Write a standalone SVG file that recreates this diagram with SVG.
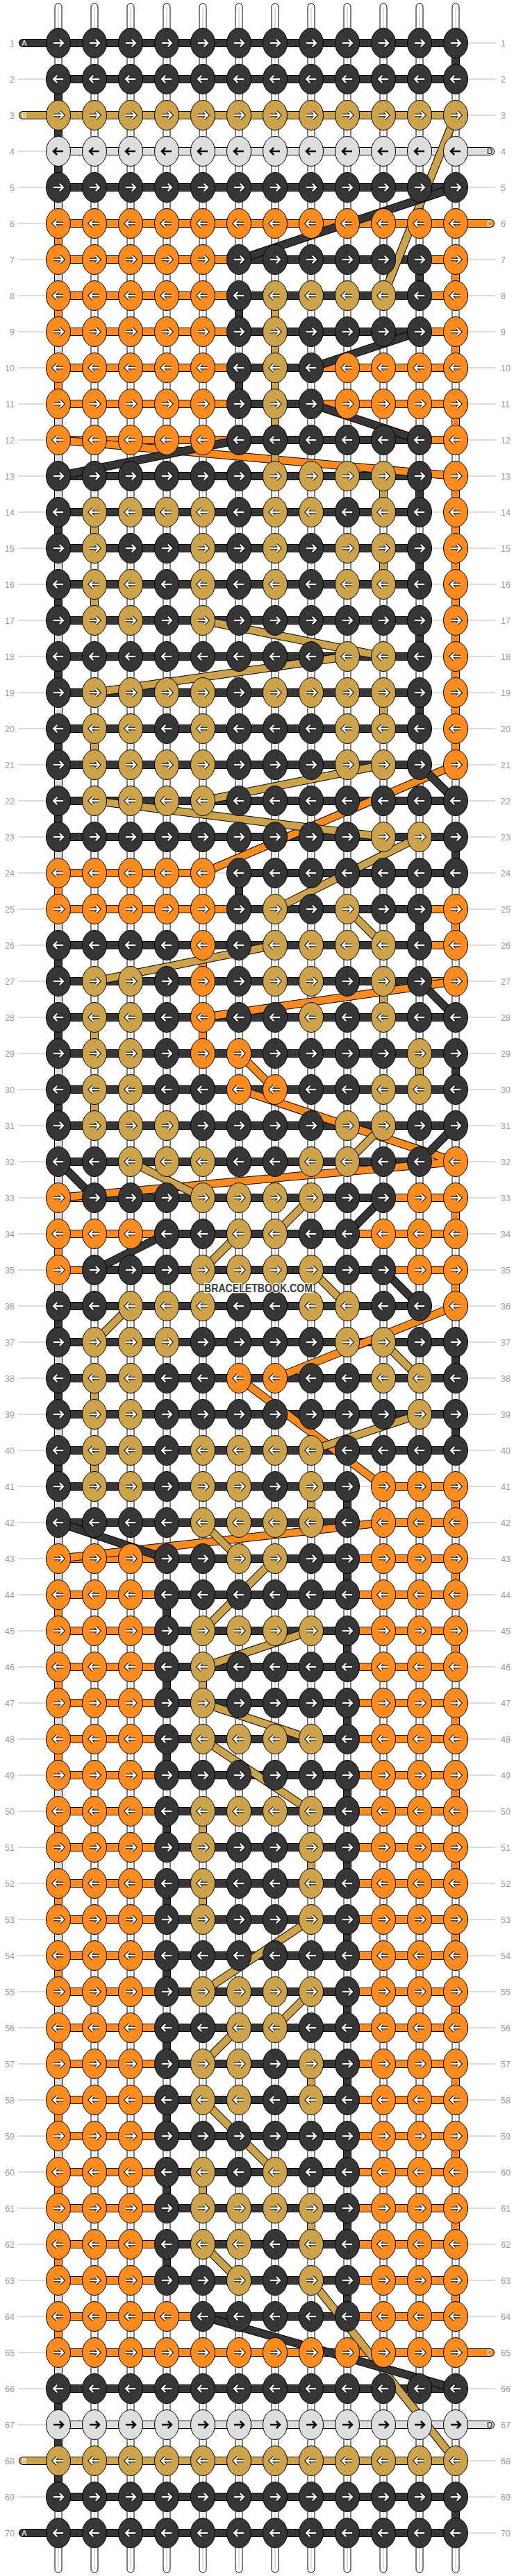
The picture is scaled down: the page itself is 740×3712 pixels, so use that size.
<svg xmlns="http://www.w3.org/2000/svg" width="740" height="3712" viewBox="0 0 740 3712">
<style>
.ln{fill:none;stroke:#bbb;stroke-width:1}
.lb{font-family:"Liberation Sans",Arial,sans-serif;font-size:12.5px;fill:#999}
.lbr{font-family:"Liberation Sans",Arial,sans-serif;font-size:12.5px;fill:#999}
.st{fill:#fff;stroke:#000;stroke-width:1}
.sc{fill:none;stroke:#c8c8c8;stroke-width:1.2}
.t{fill:none;stroke-linecap:round;stroke-linejoin:round}
.to{stroke:#000;stroke-width:12}
.tD{stroke:#363636;stroke-width:10}
.tG{stroke:#cca34a;stroke-width:10}
.tO{stroke:#ff8a1d;stroke-width:10}
.tL{stroke:#dedede;stroke-width:10}
.tl{font-family:"Liberation Sans",Arial,sans-serif;font-size:11px;text-anchor:middle}
</style>
<defs>
<path id="a" d="M-7,0H6.2M1.8,-5.2L7,0L1.8,5.2" fill="none"/>
<g id="arw"><use href="#a" stroke="#000" stroke-width="4.4"/><use href="#a" stroke="#fff" stroke-width="2.4"/></g>
<g id="alw"><g transform="scale(-1,1)"><use href="#arw"/></g></g>
<g id="arb"><use href="#a" stroke="#000" stroke-width="2.6"/></g>
<g id="alb"><g transform="scale(-1,1)"><use href="#arb"/></g></g>
<ellipse id="e" rx="17.5" ry="21.5" stroke="#000" stroke-width="1"/>
<g id="dr"><use href="#e" fill="#363636"/><use href="#arw"/></g>
<g id="dl"><use href="#e" fill="#363636"/><use href="#alw"/></g>
<g id="gr"><use href="#e" fill="#cca34a"/><use href="#arw"/></g>
<g id="gl"><use href="#e" fill="#cca34a"/><use href="#alw"/></g>
<g id="or"><use href="#e" fill="#ff8a1d"/><use href="#arw"/></g>
<g id="ol"><use href="#e" fill="#ff8a1d"/><use href="#alw"/></g>
<g id="wr"><use href="#e" fill="#dedede"/><use href="#arb"/></g>
<g id="wl"><use href="#e" fill="#dedede"/><use href="#alb"/></g>
<path id="pL" d="M84 218H706M84 3494H706"/>
<path id="pO" d="M84 322H706M84 374H656M84 426H656M84 478H656M84 530H656M84 582H656M84 634H656M84 1258H292M84 1310H656M292 1362H656M292 1414H656M292 1518H344M344 1570H396M84 1726H656M84 1778H656M84 1830H656M344 1986H396M552 2142H656M552 2194H656M84 2246H656M84 2298H656M84 2350H656M84 2402H656M84 2454H656M84 2506H656M84 2558H656M84 2610H656M84 2662H656M84 2714H656M84 2766H656M84 2818H656M84 2870H656M84 2922H656M84 2974H656M84 3026H656M84 3078H656M84 3130H656M84 3182H656M84 3234H656M84 3286H656M84 3338H656M84 3390H706"/>
<path id="pG" d="M33 166H656M396 426H552M396 686H552M136 738H552M136 790H552M136 842H552M136 894H292M500 946H552M136 998H552M136 1050H552M136 1102H552M136 1154H292M552 1206H604M396 1310H500M396 1362H552M136 1414H552M136 1466H552M136 1518H604M136 1570H604M136 1622H552M188 1674H500M292 1726H448M344 1778H396M292 1830H448M188 1882H500M136 1934H552M136 1986H604M136 2038H604M136 2090H448M136 2142H448M292 2194H448M344 2246H396M292 2350H448M292 2506H448M292 2610H448M292 2662H448M292 2714H448M292 2766H448M292 2870H448M344 2922H396M292 2974H448M292 3026H448M292 3130H396M292 3182H448M292 3234H448M344 3286H448M33 3546H656"/>
<path id="pD" d="M33 62H656M84 114H656M84 270H656M344 374H604M344 426H604M344 478H604M344 530H448M344 582H448M344 634H604M84 686H604M84 738H604M84 790H604M84 842H604M84 894H604M84 946H604M84 998H604M84 1050H604M84 1102H604M84 1154H656M84 1206H656M344 1258H656M344 1310H604M84 1362H604M84 1414H604M84 1466H656M84 1518H656M84 1570H656M84 1622H656M84 1674H604M136 1726H552M240 1778H500M136 1830H552M84 1882H604M84 1934H656M84 1986H656M84 2038H656M84 2090H656M84 2142H500M84 2194H500M240 2246H500M240 2298H500M240 2350H500M240 2402H500M240 2454H500M240 2506H500M240 2558H500M240 2610H500M240 2662H500M240 2714H500M240 2766H500M240 2818H500M240 2870H500M240 2922H500M240 2974H500M240 3026H500M240 3078H500M240 3130H500M240 3182H500M240 3234H500M240 3286H500M292 3338H500M84 3442H656M84 3598H656M33 3650H656"/>
<path id="jL" d="M84 218V3494"/>
<path id="jO" d="M84 322V374M656 374V426M84 426V478M656 478V530M84 530V582M656 582V634M84 634L656 686M656 686V1102M656 1102L292 1258M84 1258V1310M656 1310V1362M292 1362V1414M656 1414L292 1466M292 1466V1518M344 1518L396 1570M344 1570L656 1674M656 1674L84 1726M656 1726V1778M84 1778V1830M656 1830V1882M656 1882L396 1986M344 1986L552 2142M656 2142V2194M552 2194L84 2246M656 2246V2298M84 2298V2350M656 2350V2402M84 2402V2454M656 2454V2506M84 2506V2558M656 2558V2610M84 2610V2662M656 2662V2714M84 2714V2766M656 2766V2818M84 2818V2870M656 2870V2922M84 2922V2974M656 2974V3026M84 3026V3078M656 3078V3130M84 3130V3182M656 3182V3234M84 3234V3286M656 3286V3338M84 3338V3390"/>
<path id="jG" d="M656 166L552 426M396 426V686M552 686V738M136 738V790M552 790V842M136 842V894M292 894L552 946M500 946L136 998M552 998V1050M136 1050V1102M552 1102L292 1154M136 1154L552 1206M604 1206L396 1310M500 1310L552 1362M396 1362L136 1414M552 1414V1466M136 1466V1518M604 1518V1570M136 1570V1622M552 1622L500 1674M188 1674L292 1726M448 1726L396 1778M344 1778L292 1830M448 1830L500 1882M188 1882L136 1934M552 1934L604 1986M136 1986V2038M604 2038L448 2090M136 2090V2142M448 2142V2194M292 2194L344 2246M396 2246L292 2350M448 2350L292 2402M292 2402V2454M292 2454L448 2506M292 2506L448 2610M292 2610V2662M448 2662V2714M292 2714V2766M448 2766L292 2870M448 2870L396 2922M344 2922L292 2974M448 2974V3026M292 3026L396 3130M292 3130V3182M448 3182V3234M292 3234L344 3286M448 3286L656 3546"/>
<path id="jD" d="M656 62V114M84 114V270M656 270L344 374M604 374V426M344 426V478M604 478L448 530M344 530V582M448 582L604 634M344 634L84 686M604 686V738M84 738V790M604 790V842M84 842V894M604 894V946M84 946V998M604 998V1050M84 1050V1102M604 1102L656 1154M84 1154V1206M656 1206V1258M344 1258V1310M604 1310V1362M84 1362V1414M604 1414L656 1466M84 1466V1518M656 1518V1570M84 1570V1622M656 1622L604 1674M84 1674L136 1726M552 1726L500 1778M240 1778L136 1830M552 1830L604 1882M84 1882V1934M656 1934V1986M84 1986V2038M656 2038V2090M84 2090V2142M500 2142V2194M84 2194L240 2246M500 2246V2298M240 2298V2350M500 2350V2402M240 2402V2454M500 2454V2506M240 2506V2558M500 2558V2610M240 2610V2662M500 2662V2714M240 2714V2766M500 2766V2818M240 2818V2870M500 2870V2922M240 2922V2974M500 2974V3026M240 3026V3078M500 3078V3130M240 3130V3182M500 3182V3234M240 3234V3286M500 3286V3338M292 3338L656 3442M84 3442V3598M656 3598V3650"/>
</defs>
<rect width="740" height="3712" fill="#fff"/>
<g id="rowlines">
<path class="ln" d="M26 62H713M26 114H713M26 166H713M26 218H713M26 270H713M26 322H713M26 374H713M26 426H713M26 478H713M26 530H713M26 582H713M26 634H713M26 686H713M26 738H713M26 790H713M26 842H713M26 894H713M26 946H713M26 998H713M26 1050H713M26 1102H713M26 1154H713M26 1206H713M26 1258H713M26 1310H713M26 1362H713M26 1414H713M26 1466H713M26 1518H713M26 1570H713M26 1622H713M26 1674H713M26 1726H713M26 1778H713M26 1830H713M26 1882H713M26 1934H713M26 1986H713M26 2038H713M26 2090H713M26 2142H713M26 2194H713M26 2246H713M26 2298H713M26 2350H713M26 2402H713M26 2454H713M26 2506H713M26 2558H713M26 2610H713M26 2662H713M26 2714H713M26 2766H713M26 2818H713M26 2870H713M26 2922H713M26 2974H713M26 3026H713M26 3078H713M26 3130H713M26 3182H713M26 3234H713M26 3286H713M26 3338H713M26 3390H713M26 3442H713M26 3494H713M26 3546H713M26 3598H713M26 3650H713"/>
</g>
<g id="labels">
<g class="lb" text-anchor="end">
<text x="21" y="66.5">1</text><text x="21" y="118.5">2</text><text x="21" y="170.5">3</text><text x="21" y="222.5">4</text><text x="21" y="274.5">5</text><text x="21" y="326.5">6</text><text x="21" y="378.5">7</text><text x="21" y="430.5">8</text><text x="21" y="482.5">9</text><text x="21" y="534.5">10</text><text x="21" y="586.5">11</text><text x="21" y="638.5">12</text><text x="21" y="690.5">13</text><text x="21" y="742.5">14</text><text x="21" y="794.5">15</text><text x="21" y="846.5">16</text><text x="21" y="898.5">17</text><text x="21" y="950.5">18</text><text x="21" y="1002.5">19</text><text x="21" y="1054.5">20</text><text x="21" y="1106.5">21</text><text x="21" y="1158.5">22</text><text x="21" y="1210.5">23</text><text x="21" y="1262.5">24</text><text x="21" y="1314.5">25</text><text x="21" y="1366.5">26</text><text x="21" y="1418.5">27</text><text x="21" y="1470.5">28</text><text x="21" y="1522.5">29</text><text x="21" y="1574.5">30</text><text x="21" y="1626.5">31</text><text x="21" y="1678.5">32</text><text x="21" y="1730.5">33</text><text x="21" y="1782.5">34</text><text x="21" y="1834.5">35</text><text x="21" y="1886.5">36</text><text x="21" y="1938.5">37</text><text x="21" y="1990.5">38</text><text x="21" y="2042.5">39</text><text x="21" y="2094.5">40</text><text x="21" y="2146.5">41</text><text x="21" y="2198.5">42</text><text x="21" y="2250.5">43</text><text x="21" y="2302.5">44</text><text x="21" y="2354.5">45</text><text x="21" y="2406.5">46</text><text x="21" y="2458.5">47</text><text x="21" y="2510.5">48</text><text x="21" y="2562.5">49</text><text x="21" y="2614.5">50</text><text x="21" y="2666.5">51</text><text x="21" y="2718.5">52</text><text x="21" y="2770.5">53</text><text x="21" y="2822.5">54</text><text x="21" y="2874.5">55</text><text x="21" y="2926.5">56</text><text x="21" y="2978.5">57</text><text x="21" y="3030.5">58</text><text x="21" y="3082.5">59</text><text x="21" y="3134.5">60</text><text x="21" y="3186.5">61</text><text x="21" y="3238.5">62</text><text x="21" y="3290.5">63</text><text x="21" y="3342.5">64</text><text x="21" y="3394.5">65</text><text x="21" y="3446.5">66</text><text x="21" y="3498.5">67</text><text x="21" y="3550.5">68</text><text x="21" y="3602.5">69</text><text x="21" y="3654.5">70</text>
</g>
<g class="lbr">
<text x="721" y="66.5">1</text><text x="721" y="118.5">2</text><text x="721" y="170.5">3</text><text x="721" y="222.5">4</text><text x="721" y="274.5">5</text><text x="721" y="326.5">6</text><text x="721" y="378.5">7</text><text x="721" y="430.5">8</text><text x="721" y="482.5">9</text><text x="721" y="534.5">10</text><text x="721" y="586.5">11</text><text x="721" y="638.5">12</text><text x="721" y="690.5">13</text><text x="721" y="742.5">14</text><text x="721" y="794.5">15</text><text x="721" y="846.5">16</text><text x="721" y="898.5">17</text><text x="721" y="950.5">18</text><text x="721" y="1002.5">19</text><text x="721" y="1054.5">20</text><text x="721" y="1106.5">21</text><text x="721" y="1158.5">22</text><text x="721" y="1210.5">23</text><text x="721" y="1262.5">24</text><text x="721" y="1314.5">25</text><text x="721" y="1366.5">26</text><text x="721" y="1418.5">27</text><text x="721" y="1470.5">28</text><text x="721" y="1522.5">29</text><text x="721" y="1574.5">30</text><text x="721" y="1626.5">31</text><text x="721" y="1678.5">32</text><text x="721" y="1730.5">33</text><text x="721" y="1782.5">34</text><text x="721" y="1834.5">35</text><text x="721" y="1886.5">36</text><text x="721" y="1938.5">37</text><text x="721" y="1990.5">38</text><text x="721" y="2042.5">39</text><text x="721" y="2094.5">40</text><text x="721" y="2146.5">41</text><text x="721" y="2198.5">42</text><text x="721" y="2250.5">43</text><text x="721" y="2302.5">44</text><text x="721" y="2354.5">45</text><text x="721" y="2406.5">46</text><text x="721" y="2458.5">47</text><text x="721" y="2510.5">48</text><text x="721" y="2562.5">49</text><text x="721" y="2614.5">50</text><text x="721" y="2666.5">51</text><text x="721" y="2718.5">52</text><text x="721" y="2770.5">53</text><text x="721" y="2822.5">54</text><text x="721" y="2874.5">55</text><text x="721" y="2926.5">56</text><text x="721" y="2978.5">57</text><text x="721" y="3030.5">58</text><text x="721" y="3082.5">59</text><text x="721" y="3134.5">60</text><text x="721" y="3186.5">61</text><text x="721" y="3238.5">62</text><text x="721" y="3290.5">63</text><text x="721" y="3342.5">64</text><text x="721" y="3394.5">65</text><text x="721" y="3446.5">66</text><text x="721" y="3498.5">67</text><text x="721" y="3550.5">68</text><text x="721" y="3602.5">69</text><text x="721" y="3654.5">70</text>
</g>
</g>
<g id="strings">
<rect class="st" x="79" y="5" width="10" height="3702" rx="5"/><rect class="st" x="131" y="5" width="10" height="3702" rx="5"/><rect class="st" x="183" y="5" width="10" height="3702" rx="5"/><rect class="st" x="235" y="5" width="10" height="3702" rx="5"/><rect class="st" x="287" y="5" width="10" height="3702" rx="5"/><rect class="st" x="339" y="5" width="10" height="3702" rx="5"/><rect class="st" x="391" y="5" width="10" height="3702" rx="5"/><rect class="st" x="443" y="5" width="10" height="3702" rx="5"/><rect class="st" x="495" y="5" width="10" height="3702" rx="5"/><rect class="st" x="547" y="5" width="10" height="3702" rx="5"/><rect class="st" x="599" y="5" width="10" height="3702" rx="5"/><rect class="st" x="651" y="5" width="10" height="3702" rx="5"/>
<path class="sc" d="M84 10V3702M136 10V3702M188 10V3702M240 10V3702M292 10V3702M344 10V3702M396 10V3702M448 10V3702M500 10V3702M552 10V3702M604 10V3702M656 10V3702"/>
</g>
<g id="connectors">
<g id="rows-D-thread"><use href="#pL" class="t to"/><use href="#pL" class="t tL"/></g>
<g id="rows-C-thread"><use href="#pO" class="t to"/><use href="#pO" class="t tO"/></g>
<g id="rows-B-thread"><use href="#pG" class="t to"/><use href="#pG" class="t tG"/></g>
<g id="rows-A-thread"><use href="#pD" class="t to"/><use href="#pD" class="t tD"/></g>
<g id="jumps-D-thread"><use href="#jL" class="t to"/><use href="#jL" class="t tL"/></g>
<g id="jumps-C-thread"><use href="#jO" class="t to"/><use href="#jO" class="t tO"/></g>
<g id="jumps-B-thread"><use href="#jG" class="t to"/><use href="#jG" class="t tG"/></g>
<g id="jumps-A-thread"><use href="#jD" class="t to"/><use href="#jD" class="t tD"/></g>
<g id="tail-labels">
<text class="tl" x="35" y="66" fill="#fff">A</text>
<text class="tl" x="35" y="170" fill="#fff">B</text>
<text class="tl" x="705" y="222" fill="#000">D</text>
<text class="tl" x="705" y="326" fill="#fff">C</text>
<text class="tl" x="705" y="3394" fill="#fff">C</text>
<text class="tl" x="705" y="3498" fill="#000">D</text>
<text class="tl" x="35" y="3550" fill="#fff">B</text>
<text class="tl" x="35" y="3654" fill="#fff">A</text>
</g>
</g>
<g id="knots">
<g id="row1" transform="translate(0,62)"><g id="k1-1"><use href="#dr" x="84"/></g><g id="k1-2"><use href="#dr" x="136"/></g><g id="k1-3"><use href="#dr" x="188"/></g><g id="k1-4"><use href="#dr" x="240"/></g><g id="k1-5"><use href="#dr" x="292"/></g><g id="k1-6"><use href="#dr" x="344"/></g><g id="k1-7"><use href="#dr" x="396"/></g><g id="k1-8"><use href="#dr" x="448"/></g><g id="k1-9"><use href="#dr" x="500"/></g><g id="k1-10"><use href="#dr" x="552"/></g><g id="k1-11"><use href="#dr" x="604"/></g><g id="k1-12"><use href="#dr" x="656"/></g></g>
<g id="row2" transform="translate(0,114)"><g id="k2-1"><use href="#dl" x="84"/></g><g id="k2-2"><use href="#dl" x="136"/></g><g id="k2-3"><use href="#dl" x="188"/></g><g id="k2-4"><use href="#dl" x="240"/></g><g id="k2-5"><use href="#dl" x="292"/></g><g id="k2-6"><use href="#dl" x="344"/></g><g id="k2-7"><use href="#dl" x="396"/></g><g id="k2-8"><use href="#dl" x="448"/></g><g id="k2-9"><use href="#dl" x="500"/></g><g id="k2-10"><use href="#dl" x="552"/></g><g id="k2-11"><use href="#dl" x="604"/></g><g id="k2-12"><use href="#dl" x="656"/></g></g>
<g id="row3" transform="translate(0,166)"><g id="k3-1"><use href="#gr" x="84"/></g><g id="k3-2"><use href="#gr" x="136"/></g><g id="k3-3"><use href="#gr" x="188"/></g><g id="k3-4"><use href="#gr" x="240"/></g><g id="k3-5"><use href="#gr" x="292"/></g><g id="k3-6"><use href="#gr" x="344"/></g><g id="k3-7"><use href="#gr" x="396"/></g><g id="k3-8"><use href="#gr" x="448"/></g><g id="k3-9"><use href="#gr" x="500"/></g><g id="k3-10"><use href="#gr" x="552"/></g><g id="k3-11"><use href="#gr" x="604"/></g><g id="k3-12"><use href="#gr" x="656"/></g></g>
<g id="row4" transform="translate(0,218)"><g id="k4-1"><use href="#wl" x="84"/></g><g id="k4-2"><use href="#wl" x="136"/></g><g id="k4-3"><use href="#wl" x="188"/></g><g id="k4-4"><use href="#wl" x="240"/></g><g id="k4-5"><use href="#wl" x="292"/></g><g id="k4-6"><use href="#wl" x="344"/></g><g id="k4-7"><use href="#wl" x="396"/></g><g id="k4-8"><use href="#wl" x="448"/></g><g id="k4-9"><use href="#wl" x="500"/></g><g id="k4-10"><use href="#wl" x="552"/></g><g id="k4-11"><use href="#wl" x="604"/></g><g id="k4-12"><use href="#wl" x="656"/></g></g>
<g id="row5" transform="translate(0,270)"><g id="k5-1"><use href="#dr" x="84"/></g><g id="k5-2"><use href="#dr" x="136"/></g><g id="k5-3"><use href="#dr" x="188"/></g><g id="k5-4"><use href="#dr" x="240"/></g><g id="k5-5"><use href="#dr" x="292"/></g><g id="k5-6"><use href="#dr" x="344"/></g><g id="k5-7"><use href="#dr" x="396"/></g><g id="k5-8"><use href="#dr" x="448"/></g><g id="k5-9"><use href="#dr" x="500"/></g><g id="k5-10"><use href="#dr" x="552"/></g><g id="k5-11"><use href="#dr" x="604"/></g><g id="k5-12"><use href="#dr" x="656"/></g></g>
<g id="row6" transform="translate(0,322)"><g id="k6-1"><use href="#ol" x="84"/></g><g id="k6-2"><use href="#ol" x="136"/></g><g id="k6-3"><use href="#ol" x="188"/></g><g id="k6-4"><use href="#ol" x="240"/></g><g id="k6-5"><use href="#ol" x="292"/></g><g id="k6-6"><use href="#ol" x="344"/></g><g id="k6-7"><use href="#ol" x="396"/></g><g id="k6-8"><use href="#ol" x="448"/></g><g id="k6-9"><use href="#ol" x="500"/></g><g id="k6-10"><use href="#ol" x="552"/></g><g id="k6-11"><use href="#ol" x="604"/></g><g id="k6-12"><use href="#ol" x="656"/></g></g>
<g id="row7" transform="translate(0,374)"><g id="k7-1"><use href="#or" x="84"/></g><g id="k7-2"><use href="#or" x="136"/></g><g id="k7-3"><use href="#or" x="188"/></g><g id="k7-4"><use href="#or" x="240"/></g><g id="k7-5"><use href="#or" x="292"/></g><g id="k7-6"><use href="#dr" x="344"/></g><g id="k7-7"><use href="#dr" x="396"/></g><g id="k7-8"><use href="#dr" x="448"/></g><g id="k7-9"><use href="#dr" x="500"/></g><g id="k7-10"><use href="#dr" x="552"/></g><g id="k7-11"><use href="#dr" x="604"/></g><g id="k7-12"><use href="#or" x="656"/></g></g>
<g id="row8" transform="translate(0,426)"><g id="k8-1"><use href="#ol" x="84"/></g><g id="k8-2"><use href="#ol" x="136"/></g><g id="k8-3"><use href="#ol" x="188"/></g><g id="k8-4"><use href="#ol" x="240"/></g><g id="k8-5"><use href="#ol" x="292"/></g><g id="k8-6"><use href="#dl" x="344"/></g><g id="k8-7"><use href="#gl" x="396"/></g><g id="k8-8"><use href="#gl" x="448"/></g><g id="k8-9"><use href="#gl" x="500"/></g><g id="k8-10"><use href="#gl" x="552"/></g><g id="k8-11"><use href="#dl" x="604"/></g><g id="k8-12"><use href="#ol" x="656"/></g></g>
<g id="row9" transform="translate(0,478)"><g id="k9-1"><use href="#or" x="84"/></g><g id="k9-2"><use href="#or" x="136"/></g><g id="k9-3"><use href="#or" x="188"/></g><g id="k9-4"><use href="#or" x="240"/></g><g id="k9-5"><use href="#or" x="292"/></g><g id="k9-6"><use href="#dr" x="344"/></g><g id="k9-7"><use href="#gr" x="396"/></g><g id="k9-8"><use href="#dr" x="448"/></g><g id="k9-9"><use href="#dr" x="500"/></g><g id="k9-10"><use href="#dr" x="552"/></g><g id="k9-11"><use href="#dr" x="604"/></g><g id="k9-12"><use href="#or" x="656"/></g></g>
<g id="row10" transform="translate(0,530)"><g id="k10-1"><use href="#ol" x="84"/></g><g id="k10-2"><use href="#ol" x="136"/></g><g id="k10-3"><use href="#ol" x="188"/></g><g id="k10-4"><use href="#ol" x="240"/></g><g id="k10-5"><use href="#ol" x="292"/></g><g id="k10-6"><use href="#dl" x="344"/></g><g id="k10-7"><use href="#gl" x="396"/></g><g id="k10-8"><use href="#dl" x="448"/></g><g id="k10-9"><use href="#ol" x="500"/></g><g id="k10-10"><use href="#ol" x="552"/></g><g id="k10-11"><use href="#ol" x="604"/></g><g id="k10-12"><use href="#ol" x="656"/></g></g>
<g id="row11" transform="translate(0,582)"><g id="k11-1"><use href="#or" x="84"/></g><g id="k11-2"><use href="#or" x="136"/></g><g id="k11-3"><use href="#or" x="188"/></g><g id="k11-4"><use href="#or" x="240"/></g><g id="k11-5"><use href="#or" x="292"/></g><g id="k11-6"><use href="#dr" x="344"/></g><g id="k11-7"><use href="#gr" x="396"/></g><g id="k11-8"><use href="#dr" x="448"/></g><g id="k11-9"><use href="#or" x="500"/></g><g id="k11-10"><use href="#or" x="552"/></g><g id="k11-11"><use href="#or" x="604"/></g><g id="k11-12"><use href="#or" x="656"/></g></g>
<g id="row12" transform="translate(0,634)"><g id="k12-1"><use href="#ol" x="84"/></g><g id="k12-2"><use href="#ol" x="136"/></g><g id="k12-3"><use href="#ol" x="188"/></g><g id="k12-4"><use href="#ol" x="240"/></g><g id="k12-5"><use href="#ol" x="292"/></g><g id="k12-6"><use href="#dl" x="344"/></g><g id="k12-7"><use href="#dl" x="396"/></g><g id="k12-8"><use href="#dl" x="448"/></g><g id="k12-9"><use href="#dl" x="500"/></g><g id="k12-10"><use href="#dl" x="552"/></g><g id="k12-11"><use href="#dl" x="604"/></g><g id="k12-12"><use href="#ol" x="656"/></g></g>
<g id="row13" transform="translate(0,686)"><g id="k13-1"><use href="#dr" x="84"/></g><g id="k13-2"><use href="#dr" x="136"/></g><g id="k13-3"><use href="#dr" x="188"/></g><g id="k13-4"><use href="#dr" x="240"/></g><g id="k13-5"><use href="#dr" x="292"/></g><g id="k13-6"><use href="#dr" x="344"/></g><g id="k13-7"><use href="#gr" x="396"/></g><g id="k13-8"><use href="#gr" x="448"/></g><g id="k13-9"><use href="#gr" x="500"/></g><g id="k13-10"><use href="#gr" x="552"/></g><g id="k13-11"><use href="#dr" x="604"/></g><g id="k13-12"><use href="#or" x="656"/></g></g>
<g id="row14" transform="translate(0,738)"><g id="k14-1"><use href="#dl" x="84"/></g><g id="k14-2"><use href="#gl" x="136"/></g><g id="k14-3"><use href="#gl" x="188"/></g><g id="k14-4"><use href="#gl" x="240"/></g><g id="k14-5"><use href="#gl" x="292"/></g><g id="k14-6"><use href="#dl" x="344"/></g><g id="k14-7"><use href="#gl" x="396"/></g><g id="k14-8"><use href="#gl" x="448"/></g><g id="k14-9"><use href="#dl" x="500"/></g><g id="k14-10"><use href="#gl" x="552"/></g><g id="k14-11"><use href="#dl" x="604"/></g><g id="k14-12"><use href="#ol" x="656"/></g></g>
<g id="row15" transform="translate(0,790)"><g id="k15-1"><use href="#dr" x="84"/></g><g id="k15-2"><use href="#gr" x="136"/></g><g id="k15-3"><use href="#dr" x="188"/></g><g id="k15-4"><use href="#dr" x="240"/></g><g id="k15-5"><use href="#gr" x="292"/></g><g id="k15-6"><use href="#dr" x="344"/></g><g id="k15-7"><use href="#gr" x="396"/></g><g id="k15-8"><use href="#dr" x="448"/></g><g id="k15-9"><use href="#gr" x="500"/></g><g id="k15-10"><use href="#gr" x="552"/></g><g id="k15-11"><use href="#dr" x="604"/></g><g id="k15-12"><use href="#or" x="656"/></g></g>
<g id="row16" transform="translate(0,842)"><g id="k16-1"><use href="#dl" x="84"/></g><g id="k16-2"><use href="#gl" x="136"/></g><g id="k16-3"><use href="#gl" x="188"/></g><g id="k16-4"><use href="#dl" x="240"/></g><g id="k16-5"><use href="#gl" x="292"/></g><g id="k16-6"><use href="#dl" x="344"/></g><g id="k16-7"><use href="#gl" x="396"/></g><g id="k16-8"><use href="#dl" x="448"/></g><g id="k16-9"><use href="#gl" x="500"/></g><g id="k16-10"><use href="#gl" x="552"/></g><g id="k16-11"><use href="#dl" x="604"/></g><g id="k16-12"><use href="#ol" x="656"/></g></g>
<g id="row17" transform="translate(0,894)"><g id="k17-1"><use href="#dr" x="84"/></g><g id="k17-2"><use href="#gr" x="136"/></g><g id="k17-3"><use href="#gr" x="188"/></g><g id="k17-4"><use href="#dr" x="240"/></g><g id="k17-5"><use href="#gr" x="292"/></g><g id="k17-6"><use href="#dr" x="344"/></g><g id="k17-7"><use href="#dr" x="396"/></g><g id="k17-8"><use href="#dr" x="448"/></g><g id="k17-9"><use href="#dr" x="500"/></g><g id="k17-10"><use href="#dr" x="552"/></g><g id="k17-11"><use href="#dr" x="604"/></g><g id="k17-12"><use href="#or" x="656"/></g></g>
<g id="row18" transform="translate(0,946)"><g id="k18-1"><use href="#dl" x="84"/></g><g id="k18-2"><use href="#dl" x="136"/></g><g id="k18-3"><use href="#dl" x="188"/></g><g id="k18-4"><use href="#dl" x="240"/></g><g id="k18-5"><use href="#dl" x="292"/></g><g id="k18-6"><use href="#dl" x="344"/></g><g id="k18-7"><use href="#dl" x="396"/></g><g id="k18-8"><use href="#dl" x="448"/></g><g id="k18-9"><use href="#gl" x="500"/></g><g id="k18-10"><use href="#gl" x="552"/></g><g id="k18-11"><use href="#dl" x="604"/></g><g id="k18-12"><use href="#ol" x="656"/></g></g>
<g id="row19" transform="translate(0,998)"><g id="k19-1"><use href="#dr" x="84"/></g><g id="k19-2"><use href="#gr" x="136"/></g><g id="k19-3"><use href="#gr" x="188"/></g><g id="k19-4"><use href="#gr" x="240"/></g><g id="k19-5"><use href="#gr" x="292"/></g><g id="k19-6"><use href="#dr" x="344"/></g><g id="k19-7"><use href="#gr" x="396"/></g><g id="k19-8"><use href="#gr" x="448"/></g><g id="k19-9"><use href="#gr" x="500"/></g><g id="k19-10"><use href="#gr" x="552"/></g><g id="k19-11"><use href="#dr" x="604"/></g><g id="k19-12"><use href="#or" x="656"/></g></g>
<g id="row20" transform="translate(0,1050)"><g id="k20-1"><use href="#dl" x="84"/></g><g id="k20-2"><use href="#gl" x="136"/></g><g id="k20-3"><use href="#gl" x="188"/></g><g id="k20-4"><use href="#dl" x="240"/></g><g id="k20-5"><use href="#gl" x="292"/></g><g id="k20-6"><use href="#dl" x="344"/></g><g id="k20-7"><use href="#dl" x="396"/></g><g id="k20-8"><use href="#dl" x="448"/></g><g id="k20-9"><use href="#gl" x="500"/></g><g id="k20-10"><use href="#gl" x="552"/></g><g id="k20-11"><use href="#dl" x="604"/></g><g id="k20-12"><use href="#ol" x="656"/></g></g>
<g id="row21" transform="translate(0,1102)"><g id="k21-1"><use href="#dr" x="84"/></g><g id="k21-2"><use href="#gr" x="136"/></g><g id="k21-3"><use href="#gr" x="188"/></g><g id="k21-4"><use href="#gr" x="240"/></g><g id="k21-5"><use href="#gr" x="292"/></g><g id="k21-6"><use href="#dr" x="344"/></g><g id="k21-7"><use href="#dr" x="396"/></g><g id="k21-8"><use href="#dr" x="448"/></g><g id="k21-9"><use href="#gr" x="500"/></g><g id="k21-10"><use href="#gr" x="552"/></g><g id="k21-11"><use href="#dr" x="604"/></g><g id="k21-12"><use href="#or" x="656"/></g></g>
<g id="row22" transform="translate(0,1154)"><g id="k22-1"><use href="#dl" x="84"/></g><g id="k22-2"><use href="#gl" x="136"/></g><g id="k22-3"><use href="#gl" x="188"/></g><g id="k22-4"><use href="#gl" x="240"/></g><g id="k22-5"><use href="#gl" x="292"/></g><g id="k22-6"><use href="#dl" x="344"/></g><g id="k22-7"><use href="#dl" x="396"/></g><g id="k22-8"><use href="#dl" x="448"/></g><g id="k22-9"><use href="#dl" x="500"/></g><g id="k22-10"><use href="#dl" x="552"/></g><g id="k22-11"><use href="#dl" x="604"/></g><g id="k22-12"><use href="#dl" x="656"/></g></g>
<g id="row23" transform="translate(0,1206)"><g id="k23-1"><use href="#dr" x="84"/></g><g id="k23-2"><use href="#dr" x="136"/></g><g id="k23-3"><use href="#dr" x="188"/></g><g id="k23-4"><use href="#dr" x="240"/></g><g id="k23-5"><use href="#dr" x="292"/></g><g id="k23-6"><use href="#dr" x="344"/></g><g id="k23-7"><use href="#dr" x="396"/></g><g id="k23-8"><use href="#dr" x="448"/></g><g id="k23-9"><use href="#dr" x="500"/></g><g id="k23-10"><use href="#gr" x="552"/></g><g id="k23-11"><use href="#gr" x="604"/></g><g id="k23-12"><use href="#dr" x="656"/></g></g>
<g id="row24" transform="translate(0,1258)"><g id="k24-1"><use href="#ol" x="84"/></g><g id="k24-2"><use href="#ol" x="136"/></g><g id="k24-3"><use href="#ol" x="188"/></g><g id="k24-4"><use href="#ol" x="240"/></g><g id="k24-5"><use href="#ol" x="292"/></g><g id="k24-6"><use href="#dl" x="344"/></g><g id="k24-7"><use href="#dl" x="396"/></g><g id="k24-8"><use href="#dl" x="448"/></g><g id="k24-9"><use href="#dl" x="500"/></g><g id="k24-10"><use href="#dl" x="552"/></g><g id="k24-11"><use href="#dl" x="604"/></g><g id="k24-12"><use href="#dl" x="656"/></g></g>
<g id="row25" transform="translate(0,1310)"><g id="k25-1"><use href="#or" x="84"/></g><g id="k25-2"><use href="#or" x="136"/></g><g id="k25-3"><use href="#or" x="188"/></g><g id="k25-4"><use href="#or" x="240"/></g><g id="k25-5"><use href="#or" x="292"/></g><g id="k25-6"><use href="#dr" x="344"/></g><g id="k25-7"><use href="#gr" x="396"/></g><g id="k25-8"><use href="#dr" x="448"/></g><g id="k25-9"><use href="#gr" x="500"/></g><g id="k25-10"><use href="#dr" x="552"/></g><g id="k25-11"><use href="#dr" x="604"/></g><g id="k25-12"><use href="#or" x="656"/></g></g>
<g id="row26" transform="translate(0,1362)"><g id="k26-1"><use href="#dl" x="84"/></g><g id="k26-2"><use href="#dl" x="136"/></g><g id="k26-3"><use href="#dl" x="188"/></g><g id="k26-4"><use href="#dl" x="240"/></g><g id="k26-5"><use href="#ol" x="292"/></g><g id="k26-6"><use href="#dl" x="344"/></g><g id="k26-7"><use href="#gl" x="396"/></g><g id="k26-8"><use href="#gl" x="448"/></g><g id="k26-9"><use href="#gl" x="500"/></g><g id="k26-10"><use href="#gl" x="552"/></g><g id="k26-11"><use href="#dl" x="604"/></g><g id="k26-12"><use href="#ol" x="656"/></g></g>
<g id="row27" transform="translate(0,1414)"><g id="k27-1"><use href="#dr" x="84"/></g><g id="k27-2"><use href="#gr" x="136"/></g><g id="k27-3"><use href="#gr" x="188"/></g><g id="k27-4"><use href="#dr" x="240"/></g><g id="k27-5"><use href="#or" x="292"/></g><g id="k27-6"><use href="#dr" x="344"/></g><g id="k27-7"><use href="#gr" x="396"/></g><g id="k27-8"><use href="#gr" x="448"/></g><g id="k27-9"><use href="#dr" x="500"/></g><g id="k27-10"><use href="#gr" x="552"/></g><g id="k27-11"><use href="#dr" x="604"/></g><g id="k27-12"><use href="#or" x="656"/></g></g>
<g id="row28" transform="translate(0,1466)"><g id="k28-1"><use href="#dl" x="84"/></g><g id="k28-2"><use href="#gl" x="136"/></g><g id="k28-3"><use href="#gl" x="188"/></g><g id="k28-4"><use href="#dl" x="240"/></g><g id="k28-5"><use href="#ol" x="292"/></g><g id="k28-6"><use href="#dl" x="344"/></g><g id="k28-7"><use href="#dl" x="396"/></g><g id="k28-8"><use href="#gl" x="448"/></g><g id="k28-9"><use href="#dl" x="500"/></g><g id="k28-10"><use href="#gl" x="552"/></g><g id="k28-11"><use href="#dl" x="604"/></g><g id="k28-12"><use href="#dl" x="656"/></g></g>
<g id="row29" transform="translate(0,1518)"><g id="k29-1"><use href="#dr" x="84"/></g><g id="k29-2"><use href="#gr" x="136"/></g><g id="k29-3"><use href="#gr" x="188"/></g><g id="k29-4"><use href="#dr" x="240"/></g><g id="k29-5"><use href="#or" x="292"/></g><g id="k29-6"><use href="#or" x="344"/></g><g id="k29-7"><use href="#dr" x="396"/></g><g id="k29-8"><use href="#dr" x="448"/></g><g id="k29-9"><use href="#dr" x="500"/></g><g id="k29-10"><use href="#dr" x="552"/></g><g id="k29-11"><use href="#gr" x="604"/></g><g id="k29-12"><use href="#dr" x="656"/></g></g>
<g id="row30" transform="translate(0,1570)"><g id="k30-1"><use href="#dl" x="84"/></g><g id="k30-2"><use href="#gl" x="136"/></g><g id="k30-3"><use href="#gl" x="188"/></g><g id="k30-4"><use href="#dl" x="240"/></g><g id="k30-5"><use href="#dl" x="292"/></g><g id="k30-6"><use href="#ol" x="344"/></g><g id="k30-7"><use href="#ol" x="396"/></g><g id="k30-8"><use href="#dl" x="448"/></g><g id="k30-9"><use href="#dl" x="500"/></g><g id="k30-10"><use href="#gl" x="552"/></g><g id="k30-11"><use href="#gl" x="604"/></g><g id="k30-12"><use href="#dl" x="656"/></g></g>
<g id="row31" transform="translate(0,1622)"><g id="k31-1"><use href="#dr" x="84"/></g><g id="k31-2"><use href="#gr" x="136"/></g><g id="k31-3"><use href="#gr" x="188"/></g><g id="k31-4"><use href="#gr" x="240"/></g><g id="k31-5"><use href="#dr" x="292"/></g><g id="k31-6"><use href="#dr" x="344"/></g><g id="k31-7"><use href="#dr" x="396"/></g><g id="k31-8"><use href="#dr" x="448"/></g><g id="k31-9"><use href="#gr" x="500"/></g><g id="k31-10"><use href="#gr" x="552"/></g><g id="k31-11"><use href="#dr" x="604"/></g><g id="k31-12"><use href="#dr" x="656"/></g></g>
<g id="row32" transform="translate(0,1674)"><g id="k32-1"><use href="#dl" x="84"/></g><g id="k32-2"><use href="#dl" x="136"/></g><g id="k32-3"><use href="#gl" x="188"/></g><g id="k32-4"><use href="#gl" x="240"/></g><g id="k32-5"><use href="#gl" x="292"/></g><g id="k32-6"><use href="#dl" x="344"/></g><g id="k32-7"><use href="#dl" x="396"/></g><g id="k32-8"><use href="#gl" x="448"/></g><g id="k32-9"><use href="#gl" x="500"/></g><g id="k32-10"><use href="#dl" x="552"/></g><g id="k32-11"><use href="#dl" x="604"/></g><g id="k32-12"><use href="#ol" x="656"/></g></g>
<g id="row33" transform="translate(0,1726)"><g id="k33-1"><use href="#or" x="84"/></g><g id="k33-2"><use href="#dr" x="136"/></g><g id="k33-3"><use href="#dr" x="188"/></g><g id="k33-4"><use href="#dr" x="240"/></g><g id="k33-5"><use href="#gr" x="292"/></g><g id="k33-6"><use href="#gr" x="344"/></g><g id="k33-7"><use href="#gr" x="396"/></g><g id="k33-8"><use href="#gr" x="448"/></g><g id="k33-9"><use href="#dr" x="500"/></g><g id="k33-10"><use href="#dr" x="552"/></g><g id="k33-11"><use href="#or" x="604"/></g><g id="k33-12"><use href="#or" x="656"/></g></g>
<g id="row34" transform="translate(0,1778)"><g id="k34-1"><use href="#ol" x="84"/></g><g id="k34-2"><use href="#ol" x="136"/></g><g id="k34-3"><use href="#ol" x="188"/></g><g id="k34-4"><use href="#dl" x="240"/></g><g id="k34-5"><use href="#dl" x="292"/></g><g id="k34-6"><use href="#gl" x="344"/></g><g id="k34-7"><use href="#gl" x="396"/></g><g id="k34-8"><use href="#dl" x="448"/></g><g id="k34-9"><use href="#dl" x="500"/></g><g id="k34-10"><use href="#ol" x="552"/></g><g id="k34-11"><use href="#ol" x="604"/></g><g id="k34-12"><use href="#ol" x="656"/></g></g>
<g id="row35" transform="translate(0,1830)"><g id="k35-1"><use href="#or" x="84"/></g><g id="k35-2"><use href="#dr" x="136"/></g><g id="k35-3"><use href="#dr" x="188"/></g><g id="k35-4"><use href="#dr" x="240"/></g><g id="k35-5"><use href="#gr" x="292"/></g><g id="k35-6"><use href="#gr" x="344"/></g><g id="k35-7"><use href="#gr" x="396"/></g><g id="k35-8"><use href="#gr" x="448"/></g><g id="k35-9"><use href="#dr" x="500"/></g><g id="k35-10"><use href="#dr" x="552"/></g><g id="k35-11"><use href="#or" x="604"/></g><g id="k35-12"><use href="#or" x="656"/></g></g>
<g id="row36" transform="translate(0,1882)"><g id="k36-1"><use href="#dl" x="84"/></g><g id="k36-2"><use href="#dl" x="136"/></g><g id="k36-3"><use href="#gl" x="188"/></g><g id="k36-4"><use href="#gl" x="240"/></g><g id="k36-5"><use href="#gl" x="292"/></g><g id="k36-6"><use href="#dl" x="344"/></g><g id="k36-7"><use href="#dl" x="396"/></g><g id="k36-8"><use href="#gl" x="448"/></g><g id="k36-9"><use href="#gl" x="500"/></g><g id="k36-10"><use href="#dl" x="552"/></g><g id="k36-11"><use href="#dl" x="604"/></g><g id="k36-12"><use href="#ol" x="656"/></g></g>
<g id="row37" transform="translate(0,1934)"><g id="k37-1"><use href="#dr" x="84"/></g><g id="k37-2"><use href="#gr" x="136"/></g><g id="k37-3"><use href="#gr" x="188"/></g><g id="k37-4"><use href="#gr" x="240"/></g><g id="k37-5"><use href="#dr" x="292"/></g><g id="k37-6"><use href="#dr" x="344"/></g><g id="k37-7"><use href="#dr" x="396"/></g><g id="k37-8"><use href="#dr" x="448"/></g><g id="k37-9"><use href="#gr" x="500"/></g><g id="k37-10"><use href="#gr" x="552"/></g><g id="k37-11"><use href="#dr" x="604"/></g><g id="k37-12"><use href="#dr" x="656"/></g></g>
<g id="row38" transform="translate(0,1986)"><g id="k38-1"><use href="#dl" x="84"/></g><g id="k38-2"><use href="#gl" x="136"/></g><g id="k38-3"><use href="#gl" x="188"/></g><g id="k38-4"><use href="#dl" x="240"/></g><g id="k38-5"><use href="#dl" x="292"/></g><g id="k38-6"><use href="#ol" x="344"/></g><g id="k38-7"><use href="#ol" x="396"/></g><g id="k38-8"><use href="#dl" x="448"/></g><g id="k38-9"><use href="#dl" x="500"/></g><g id="k38-10"><use href="#gl" x="552"/></g><g id="k38-11"><use href="#gl" x="604"/></g><g id="k38-12"><use href="#dl" x="656"/></g></g>
<g id="row39" transform="translate(0,2038)"><g id="k39-1"><use href="#dr" x="84"/></g><g id="k39-2"><use href="#gr" x="136"/></g><g id="k39-3"><use href="#gr" x="188"/></g><g id="k39-4"><use href="#dr" x="240"/></g><g id="k39-5"><use href="#dr" x="292"/></g><g id="k39-6"><use href="#dr" x="344"/></g><g id="k39-7"><use href="#dr" x="396"/></g><g id="k39-8"><use href="#dr" x="448"/></g><g id="k39-9"><use href="#dr" x="500"/></g><g id="k39-10"><use href="#dr" x="552"/></g><g id="k39-11"><use href="#gr" x="604"/></g><g id="k39-12"><use href="#dr" x="656"/></g></g>
<g id="row40" transform="translate(0,2090)"><g id="k40-1"><use href="#dl" x="84"/></g><g id="k40-2"><use href="#gl" x="136"/></g><g id="k40-3"><use href="#gl" x="188"/></g><g id="k40-4"><use href="#dl" x="240"/></g><g id="k40-5"><use href="#gl" x="292"/></g><g id="k40-6"><use href="#gl" x="344"/></g><g id="k40-7"><use href="#gl" x="396"/></g><g id="k40-8"><use href="#gl" x="448"/></g><g id="k40-9"><use href="#dl" x="500"/></g><g id="k40-10"><use href="#dl" x="552"/></g><g id="k40-11"><use href="#dl" x="604"/></g><g id="k40-12"><use href="#dl" x="656"/></g></g>
<g id="row41" transform="translate(0,2142)"><g id="k41-1"><use href="#dr" x="84"/></g><g id="k41-2"><use href="#gr" x="136"/></g><g id="k41-3"><use href="#gr" x="188"/></g><g id="k41-4"><use href="#dr" x="240"/></g><g id="k41-5"><use href="#gr" x="292"/></g><g id="k41-6"><use href="#gr" x="344"/></g><g id="k41-7"><use href="#dr" x="396"/></g><g id="k41-8"><use href="#gr" x="448"/></g><g id="k41-9"><use href="#dr" x="500"/></g><g id="k41-10"><use href="#or" x="552"/></g><g id="k41-11"><use href="#or" x="604"/></g><g id="k41-12"><use href="#or" x="656"/></g></g>
<g id="row42" transform="translate(0,2194)"><g id="k42-1"><use href="#dl" x="84"/></g><g id="k42-2"><use href="#dl" x="136"/></g><g id="k42-3"><use href="#dl" x="188"/></g><g id="k42-4"><use href="#dl" x="240"/></g><g id="k42-5"><use href="#gl" x="292"/></g><g id="k42-6"><use href="#gl" x="344"/></g><g id="k42-7"><use href="#gl" x="396"/></g><g id="k42-8"><use href="#gl" x="448"/></g><g id="k42-9"><use href="#dl" x="500"/></g><g id="k42-10"><use href="#ol" x="552"/></g><g id="k42-11"><use href="#ol" x="604"/></g><g id="k42-12"><use href="#ol" x="656"/></g></g>
<g id="row43" transform="translate(0,2246)"><g id="k43-1"><use href="#or" x="84"/></g><g id="k43-2"><use href="#or" x="136"/></g><g id="k43-3"><use href="#or" x="188"/></g><g id="k43-4"><use href="#dr" x="240"/></g><g id="k43-5"><use href="#dr" x="292"/></g><g id="k43-6"><use href="#gr" x="344"/></g><g id="k43-7"><use href="#gr" x="396"/></g><g id="k43-8"><use href="#dr" x="448"/></g><g id="k43-9"><use href="#dr" x="500"/></g><g id="k43-10"><use href="#or" x="552"/></g><g id="k43-11"><use href="#or" x="604"/></g><g id="k43-12"><use href="#or" x="656"/></g></g>
<g id="row44" transform="translate(0,2298)"><g id="k44-1"><use href="#ol" x="84"/></g><g id="k44-2"><use href="#ol" x="136"/></g><g id="k44-3"><use href="#ol" x="188"/></g><g id="k44-4"><use href="#dl" x="240"/></g><g id="k44-5"><use href="#dl" x="292"/></g><g id="k44-6"><use href="#dl" x="344"/></g><g id="k44-7"><use href="#dl" x="396"/></g><g id="k44-8"><use href="#dl" x="448"/></g><g id="k44-9"><use href="#dl" x="500"/></g><g id="k44-10"><use href="#ol" x="552"/></g><g id="k44-11"><use href="#ol" x="604"/></g><g id="k44-12"><use href="#ol" x="656"/></g></g>
<g id="row45" transform="translate(0,2350)"><g id="k45-1"><use href="#or" x="84"/></g><g id="k45-2"><use href="#or" x="136"/></g><g id="k45-3"><use href="#or" x="188"/></g><g id="k45-4"><use href="#dr" x="240"/></g><g id="k45-5"><use href="#gr" x="292"/></g><g id="k45-6"><use href="#gr" x="344"/></g><g id="k45-7"><use href="#gr" x="396"/></g><g id="k45-8"><use href="#gr" x="448"/></g><g id="k45-9"><use href="#dr" x="500"/></g><g id="k45-10"><use href="#or" x="552"/></g><g id="k45-11"><use href="#or" x="604"/></g><g id="k45-12"><use href="#or" x="656"/></g></g>
<g id="row46" transform="translate(0,2402)"><g id="k46-1"><use href="#ol" x="84"/></g><g id="k46-2"><use href="#ol" x="136"/></g><g id="k46-3"><use href="#ol" x="188"/></g><g id="k46-4"><use href="#dl" x="240"/></g><g id="k46-5"><use href="#gl" x="292"/></g><g id="k46-6"><use href="#dl" x="344"/></g><g id="k46-7"><use href="#dl" x="396"/></g><g id="k46-8"><use href="#dl" x="448"/></g><g id="k46-9"><use href="#dl" x="500"/></g><g id="k46-10"><use href="#ol" x="552"/></g><g id="k46-11"><use href="#ol" x="604"/></g><g id="k46-12"><use href="#ol" x="656"/></g></g>
<g id="row47" transform="translate(0,2454)"><g id="k47-1"><use href="#or" x="84"/></g><g id="k47-2"><use href="#or" x="136"/></g><g id="k47-3"><use href="#or" x="188"/></g><g id="k47-4"><use href="#dr" x="240"/></g><g id="k47-5"><use href="#gr" x="292"/></g><g id="k47-6"><use href="#dr" x="344"/></g><g id="k47-7"><use href="#dr" x="396"/></g><g id="k47-8"><use href="#dr" x="448"/></g><g id="k47-9"><use href="#dr" x="500"/></g><g id="k47-10"><use href="#or" x="552"/></g><g id="k47-11"><use href="#or" x="604"/></g><g id="k47-12"><use href="#or" x="656"/></g></g>
<g id="row48" transform="translate(0,2506)"><g id="k48-1"><use href="#ol" x="84"/></g><g id="k48-2"><use href="#ol" x="136"/></g><g id="k48-3"><use href="#ol" x="188"/></g><g id="k48-4"><use href="#dl" x="240"/></g><g id="k48-5"><use href="#gl" x="292"/></g><g id="k48-6"><use href="#gl" x="344"/></g><g id="k48-7"><use href="#gl" x="396"/></g><g id="k48-8"><use href="#gl" x="448"/></g><g id="k48-9"><use href="#dl" x="500"/></g><g id="k48-10"><use href="#ol" x="552"/></g><g id="k48-11"><use href="#ol" x="604"/></g><g id="k48-12"><use href="#ol" x="656"/></g></g>
<g id="row49" transform="translate(0,2558)"><g id="k49-1"><use href="#or" x="84"/></g><g id="k49-2"><use href="#or" x="136"/></g><g id="k49-3"><use href="#or" x="188"/></g><g id="k49-4"><use href="#dr" x="240"/></g><g id="k49-5"><use href="#dr" x="292"/></g><g id="k49-6"><use href="#dr" x="344"/></g><g id="k49-7"><use href="#dr" x="396"/></g><g id="k49-8"><use href="#dr" x="448"/></g><g id="k49-9"><use href="#dr" x="500"/></g><g id="k49-10"><use href="#or" x="552"/></g><g id="k49-11"><use href="#or" x="604"/></g><g id="k49-12"><use href="#or" x="656"/></g></g>
<g id="row50" transform="translate(0,2610)"><g id="k50-1"><use href="#ol" x="84"/></g><g id="k50-2"><use href="#ol" x="136"/></g><g id="k50-3"><use href="#ol" x="188"/></g><g id="k50-4"><use href="#dl" x="240"/></g><g id="k50-5"><use href="#gl" x="292"/></g><g id="k50-6"><use href="#gl" x="344"/></g><g id="k50-7"><use href="#gl" x="396"/></g><g id="k50-8"><use href="#gl" x="448"/></g><g id="k50-9"><use href="#dl" x="500"/></g><g id="k50-10"><use href="#ol" x="552"/></g><g id="k50-11"><use href="#ol" x="604"/></g><g id="k50-12"><use href="#ol" x="656"/></g></g>
<g id="row51" transform="translate(0,2662)"><g id="k51-1"><use href="#or" x="84"/></g><g id="k51-2"><use href="#or" x="136"/></g><g id="k51-3"><use href="#or" x="188"/></g><g id="k51-4"><use href="#dr" x="240"/></g><g id="k51-5"><use href="#gr" x="292"/></g><g id="k51-6"><use href="#dr" x="344"/></g><g id="k51-7"><use href="#dr" x="396"/></g><g id="k51-8"><use href="#gr" x="448"/></g><g id="k51-9"><use href="#dr" x="500"/></g><g id="k51-10"><use href="#or" x="552"/></g><g id="k51-11"><use href="#or" x="604"/></g><g id="k51-12"><use href="#or" x="656"/></g></g>
<g id="row52" transform="translate(0,2714)"><g id="k52-1"><use href="#ol" x="84"/></g><g id="k52-2"><use href="#ol" x="136"/></g><g id="k52-3"><use href="#ol" x="188"/></g><g id="k52-4"><use href="#dl" x="240"/></g><g id="k52-5"><use href="#gl" x="292"/></g><g id="k52-6"><use href="#dl" x="344"/></g><g id="k52-7"><use href="#dl" x="396"/></g><g id="k52-8"><use href="#gl" x="448"/></g><g id="k52-9"><use href="#dl" x="500"/></g><g id="k52-10"><use href="#ol" x="552"/></g><g id="k52-11"><use href="#ol" x="604"/></g><g id="k52-12"><use href="#ol" x="656"/></g></g>
<g id="row53" transform="translate(0,2766)"><g id="k53-1"><use href="#or" x="84"/></g><g id="k53-2"><use href="#or" x="136"/></g><g id="k53-3"><use href="#or" x="188"/></g><g id="k53-4"><use href="#dr" x="240"/></g><g id="k53-5"><use href="#gr" x="292"/></g><g id="k53-6"><use href="#dr" x="344"/></g><g id="k53-7"><use href="#dr" x="396"/></g><g id="k53-8"><use href="#gr" x="448"/></g><g id="k53-9"><use href="#dr" x="500"/></g><g id="k53-10"><use href="#or" x="552"/></g><g id="k53-11"><use href="#or" x="604"/></g><g id="k53-12"><use href="#or" x="656"/></g></g>
<g id="row54" transform="translate(0,2818)"><g id="k54-1"><use href="#ol" x="84"/></g><g id="k54-2"><use href="#ol" x="136"/></g><g id="k54-3"><use href="#ol" x="188"/></g><g id="k54-4"><use href="#dl" x="240"/></g><g id="k54-5"><use href="#dl" x="292"/></g><g id="k54-6"><use href="#dl" x="344"/></g><g id="k54-7"><use href="#dl" x="396"/></g><g id="k54-8"><use href="#dl" x="448"/></g><g id="k54-9"><use href="#dl" x="500"/></g><g id="k54-10"><use href="#ol" x="552"/></g><g id="k54-11"><use href="#ol" x="604"/></g><g id="k54-12"><use href="#ol" x="656"/></g></g>
<g id="row55" transform="translate(0,2870)"><g id="k55-1"><use href="#or" x="84"/></g><g id="k55-2"><use href="#or" x="136"/></g><g id="k55-3"><use href="#or" x="188"/></g><g id="k55-4"><use href="#dr" x="240"/></g><g id="k55-5"><use href="#gr" x="292"/></g><g id="k55-6"><use href="#gr" x="344"/></g><g id="k55-7"><use href="#gr" x="396"/></g><g id="k55-8"><use href="#gr" x="448"/></g><g id="k55-9"><use href="#dr" x="500"/></g><g id="k55-10"><use href="#or" x="552"/></g><g id="k55-11"><use href="#or" x="604"/></g><g id="k55-12"><use href="#or" x="656"/></g></g>
<g id="row56" transform="translate(0,2922)"><g id="k56-1"><use href="#ol" x="84"/></g><g id="k56-2"><use href="#ol" x="136"/></g><g id="k56-3"><use href="#ol" x="188"/></g><g id="k56-4"><use href="#dl" x="240"/></g><g id="k56-5"><use href="#dl" x="292"/></g><g id="k56-6"><use href="#gl" x="344"/></g><g id="k56-7"><use href="#gl" x="396"/></g><g id="k56-8"><use href="#dl" x="448"/></g><g id="k56-9"><use href="#dl" x="500"/></g><g id="k56-10"><use href="#ol" x="552"/></g><g id="k56-11"><use href="#ol" x="604"/></g><g id="k56-12"><use href="#ol" x="656"/></g></g>
<g id="row57" transform="translate(0,2974)"><g id="k57-1"><use href="#or" x="84"/></g><g id="k57-2"><use href="#or" x="136"/></g><g id="k57-3"><use href="#or" x="188"/></g><g id="k57-4"><use href="#dr" x="240"/></g><g id="k57-5"><use href="#gr" x="292"/></g><g id="k57-6"><use href="#gr" x="344"/></g><g id="k57-7"><use href="#dr" x="396"/></g><g id="k57-8"><use href="#gr" x="448"/></g><g id="k57-9"><use href="#dr" x="500"/></g><g id="k57-10"><use href="#or" x="552"/></g><g id="k57-11"><use href="#or" x="604"/></g><g id="k57-12"><use href="#or" x="656"/></g></g>
<g id="row58" transform="translate(0,3026)"><g id="k58-1"><use href="#ol" x="84"/></g><g id="k58-2"><use href="#ol" x="136"/></g><g id="k58-3"><use href="#ol" x="188"/></g><g id="k58-4"><use href="#dl" x="240"/></g><g id="k58-5"><use href="#gl" x="292"/></g><g id="k58-6"><use href="#gl" x="344"/></g><g id="k58-7"><use href="#dl" x="396"/></g><g id="k58-8"><use href="#gl" x="448"/></g><g id="k58-9"><use href="#dl" x="500"/></g><g id="k58-10"><use href="#ol" x="552"/></g><g id="k58-11"><use href="#ol" x="604"/></g><g id="k58-12"><use href="#ol" x="656"/></g></g>
<g id="row59" transform="translate(0,3078)"><g id="k59-1"><use href="#or" x="84"/></g><g id="k59-2"><use href="#or" x="136"/></g><g id="k59-3"><use href="#or" x="188"/></g><g id="k59-4"><use href="#dr" x="240"/></g><g id="k59-5"><use href="#dr" x="292"/></g><g id="k59-6"><use href="#dr" x="344"/></g><g id="k59-7"><use href="#dr" x="396"/></g><g id="k59-8"><use href="#dr" x="448"/></g><g id="k59-9"><use href="#dr" x="500"/></g><g id="k59-10"><use href="#or" x="552"/></g><g id="k59-11"><use href="#or" x="604"/></g><g id="k59-12"><use href="#or" x="656"/></g></g>
<g id="row60" transform="translate(0,3130)"><g id="k60-1"><use href="#ol" x="84"/></g><g id="k60-2"><use href="#ol" x="136"/></g><g id="k60-3"><use href="#ol" x="188"/></g><g id="k60-4"><use href="#dl" x="240"/></g><g id="k60-5"><use href="#gl" x="292"/></g><g id="k60-6"><use href="#dl" x="344"/></g><g id="k60-7"><use href="#gl" x="396"/></g><g id="k60-8"><use href="#dl" x="448"/></g><g id="k60-9"><use href="#dl" x="500"/></g><g id="k60-10"><use href="#ol" x="552"/></g><g id="k60-11"><use href="#ol" x="604"/></g><g id="k60-12"><use href="#ol" x="656"/></g></g>
<g id="row61" transform="translate(0,3182)"><g id="k61-1"><use href="#or" x="84"/></g><g id="k61-2"><use href="#or" x="136"/></g><g id="k61-3"><use href="#or" x="188"/></g><g id="k61-4"><use href="#dr" x="240"/></g><g id="k61-5"><use href="#gr" x="292"/></g><g id="k61-6"><use href="#gr" x="344"/></g><g id="k61-7"><use href="#gr" x="396"/></g><g id="k61-8"><use href="#gr" x="448"/></g><g id="k61-9"><use href="#dr" x="500"/></g><g id="k61-10"><use href="#or" x="552"/></g><g id="k61-11"><use href="#or" x="604"/></g><g id="k61-12"><use href="#or" x="656"/></g></g>
<g id="row62" transform="translate(0,3234)"><g id="k62-1"><use href="#ol" x="84"/></g><g id="k62-2"><use href="#ol" x="136"/></g><g id="k62-3"><use href="#ol" x="188"/></g><g id="k62-4"><use href="#dl" x="240"/></g><g id="k62-5"><use href="#gl" x="292"/></g><g id="k62-6"><use href="#gl" x="344"/></g><g id="k62-7"><use href="#dl" x="396"/></g><g id="k62-8"><use href="#gl" x="448"/></g><g id="k62-9"><use href="#dl" x="500"/></g><g id="k62-10"><use href="#ol" x="552"/></g><g id="k62-11"><use href="#ol" x="604"/></g><g id="k62-12"><use href="#ol" x="656"/></g></g>
<g id="row63" transform="translate(0,3286)"><g id="k63-1"><use href="#or" x="84"/></g><g id="k63-2"><use href="#or" x="136"/></g><g id="k63-3"><use href="#or" x="188"/></g><g id="k63-4"><use href="#dr" x="240"/></g><g id="k63-5"><use href="#dr" x="292"/></g><g id="k63-6"><use href="#gr" x="344"/></g><g id="k63-7"><use href="#dr" x="396"/></g><g id="k63-8"><use href="#gr" x="448"/></g><g id="k63-9"><use href="#dr" x="500"/></g><g id="k63-10"><use href="#or" x="552"/></g><g id="k63-11"><use href="#or" x="604"/></g><g id="k63-12"><use href="#or" x="656"/></g></g>
<g id="row64" transform="translate(0,3338)"><g id="k64-1"><use href="#ol" x="84"/></g><g id="k64-2"><use href="#ol" x="136"/></g><g id="k64-3"><use href="#ol" x="188"/></g><g id="k64-4"><use href="#ol" x="240"/></g><g id="k64-5"><use href="#dl" x="292"/></g><g id="k64-6"><use href="#dl" x="344"/></g><g id="k64-7"><use href="#dl" x="396"/></g><g id="k64-8"><use href="#dl" x="448"/></g><g id="k64-9"><use href="#dl" x="500"/></g><g id="k64-10"><use href="#ol" x="552"/></g><g id="k64-11"><use href="#ol" x="604"/></g><g id="k64-12"><use href="#ol" x="656"/></g></g>
<g id="row65" transform="translate(0,3390)"><g id="k65-1"><use href="#or" x="84"/></g><g id="k65-2"><use href="#or" x="136"/></g><g id="k65-3"><use href="#or" x="188"/></g><g id="k65-4"><use href="#or" x="240"/></g><g id="k65-5"><use href="#or" x="292"/></g><g id="k65-6"><use href="#or" x="344"/></g><g id="k65-7"><use href="#or" x="396"/></g><g id="k65-8"><use href="#or" x="448"/></g><g id="k65-9"><use href="#or" x="500"/></g><g id="k65-10"><use href="#or" x="552"/></g><g id="k65-11"><use href="#or" x="604"/></g><g id="k65-12"><use href="#or" x="656"/></g></g>
<g id="row66" transform="translate(0,3442)"><g id="k66-1"><use href="#dl" x="84"/></g><g id="k66-2"><use href="#dl" x="136"/></g><g id="k66-3"><use href="#dl" x="188"/></g><g id="k66-4"><use href="#dl" x="240"/></g><g id="k66-5"><use href="#dl" x="292"/></g><g id="k66-6"><use href="#dl" x="344"/></g><g id="k66-7"><use href="#dl" x="396"/></g><g id="k66-8"><use href="#dl" x="448"/></g><g id="k66-9"><use href="#dl" x="500"/></g><g id="k66-10"><use href="#dl" x="552"/></g><g id="k66-11"><use href="#dl" x="604"/></g><g id="k66-12"><use href="#dl" x="656"/></g></g>
<g id="row67" transform="translate(0,3494)"><g id="k67-1"><use href="#wr" x="84"/></g><g id="k67-2"><use href="#wr" x="136"/></g><g id="k67-3"><use href="#wr" x="188"/></g><g id="k67-4"><use href="#wr" x="240"/></g><g id="k67-5"><use href="#wr" x="292"/></g><g id="k67-6"><use href="#wr" x="344"/></g><g id="k67-7"><use href="#wr" x="396"/></g><g id="k67-8"><use href="#wr" x="448"/></g><g id="k67-9"><use href="#wr" x="500"/></g><g id="k67-10"><use href="#wr" x="552"/></g><g id="k67-11"><use href="#wr" x="604"/></g><g id="k67-12"><use href="#wr" x="656"/></g></g>
<g id="row68" transform="translate(0,3546)"><g id="k68-1"><use href="#gl" x="84"/></g><g id="k68-2"><use href="#gl" x="136"/></g><g id="k68-3"><use href="#gl" x="188"/></g><g id="k68-4"><use href="#gl" x="240"/></g><g id="k68-5"><use href="#gl" x="292"/></g><g id="k68-6"><use href="#gl" x="344"/></g><g id="k68-7"><use href="#gl" x="396"/></g><g id="k68-8"><use href="#gl" x="448"/></g><g id="k68-9"><use href="#gl" x="500"/></g><g id="k68-10"><use href="#gl" x="552"/></g><g id="k68-11"><use href="#gl" x="604"/></g><g id="k68-12"><use href="#gl" x="656"/></g></g>
<g id="row69" transform="translate(0,3598)"><g id="k69-1"><use href="#dr" x="84"/></g><g id="k69-2"><use href="#dr" x="136"/></g><g id="k69-3"><use href="#dr" x="188"/></g><g id="k69-4"><use href="#dr" x="240"/></g><g id="k69-5"><use href="#dr" x="292"/></g><g id="k69-6"><use href="#dr" x="344"/></g><g id="k69-7"><use href="#dr" x="396"/></g><g id="k69-8"><use href="#dr" x="448"/></g><g id="k69-9"><use href="#dr" x="500"/></g><g id="k69-10"><use href="#dr" x="552"/></g><g id="k69-11"><use href="#dr" x="604"/></g><g id="k69-12"><use href="#dr" x="656"/></g></g>
<g id="row70" transform="translate(0,3650)"><g id="k70-1"><use href="#dl" x="84"/></g><g id="k70-2"><use href="#dl" x="136"/></g><g id="k70-3"><use href="#dl" x="188"/></g><g id="k70-4"><use href="#dl" x="240"/></g><g id="k70-5"><use href="#dl" x="292"/></g><g id="k70-6"><use href="#dl" x="344"/></g><g id="k70-7"><use href="#dl" x="396"/></g><g id="k70-8"><use href="#dl" x="448"/></g><g id="k70-9"><use href="#dl" x="500"/></g><g id="k70-10"><use href="#dl" x="552"/></g><g id="k70-11"><use href="#dl" x="604"/></g><g id="k70-12"><use href="#dl" x="656"/></g></g>
</g>
<text id="watermark" x="372" y="1862" text-anchor="middle" font-family="'Liberation Sans',Arial,sans-serif" font-weight="bold" font-size="16" textLength="156" lengthAdjust="spacingAndGlyphs" fill="#3c3c3c" stroke="#fff" stroke-width="2.5" paint-order="stroke" stroke-linejoin="round">BRACELETBOOK.COM</text>
</svg>
